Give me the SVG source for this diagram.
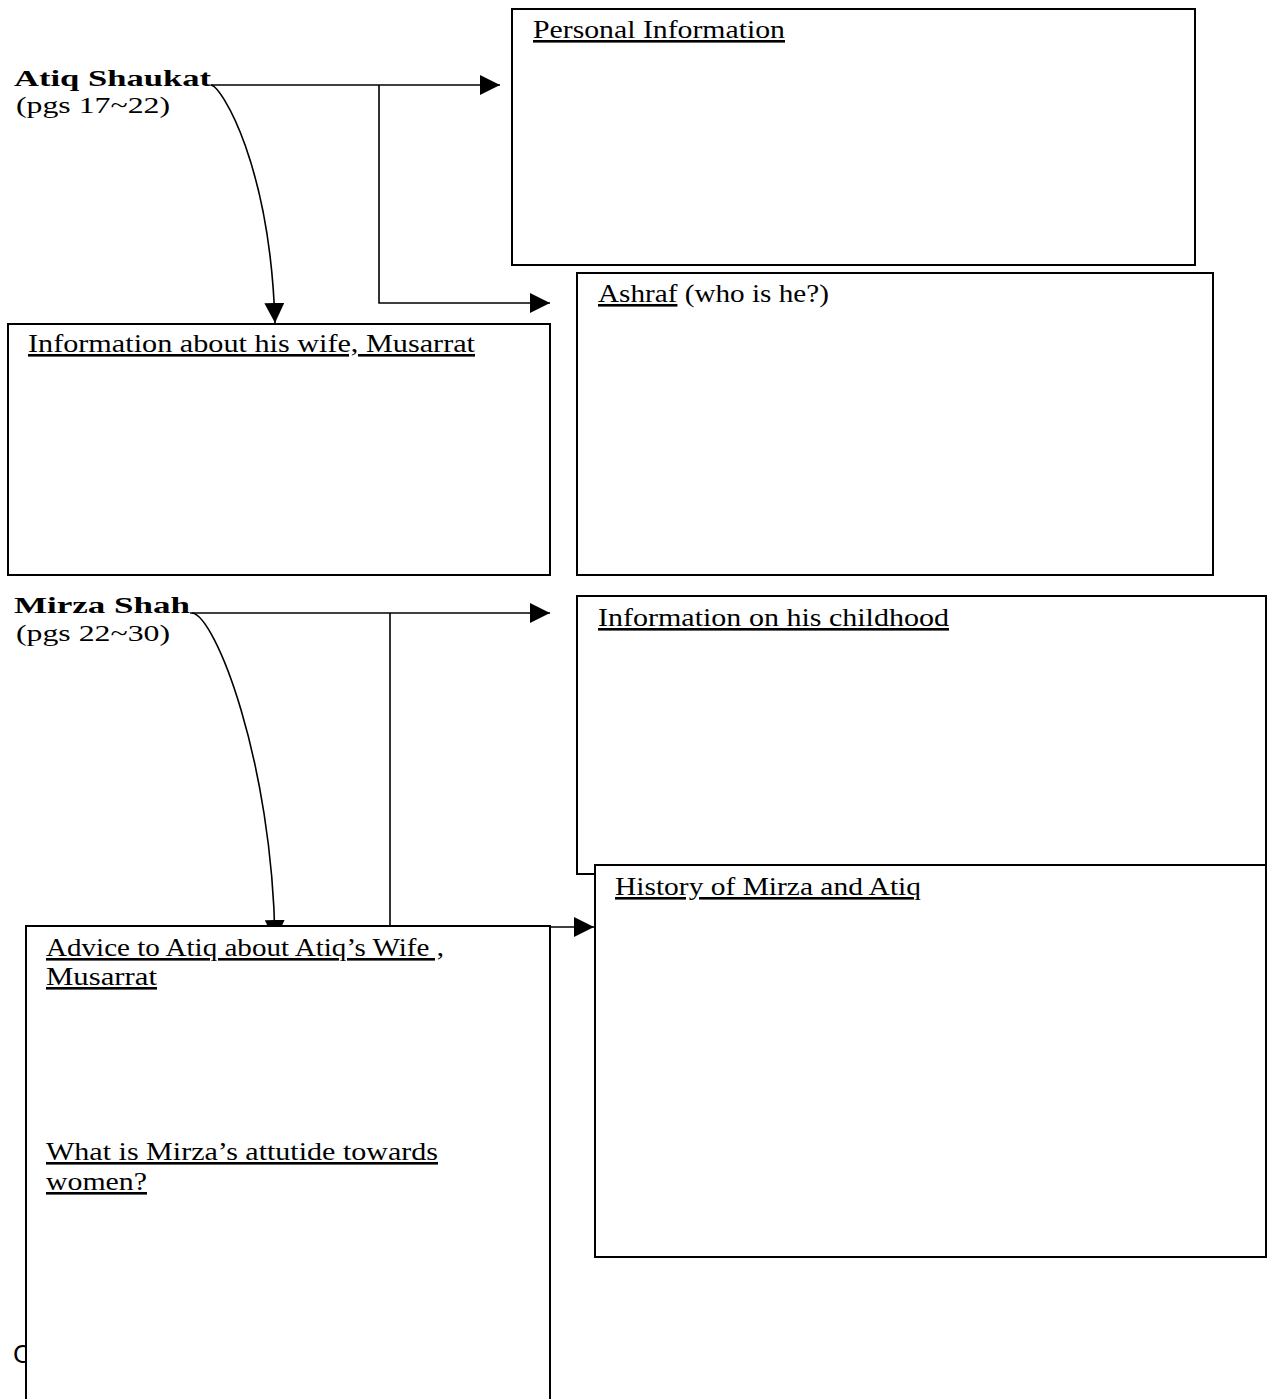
<svg xmlns="http://www.w3.org/2000/svg" width="1267" height="1399" viewBox="0 0 1267 1399">
<style>
.box{fill:#fff;stroke:#000;stroke-width:2}
.ln{fill:none;stroke:#000;stroke-width:1.6}
.hd{font-family:"Liberation Serif",serif;font-size:24px;font-weight:bold;fill:#000}
.pg{font-family:"Liberation Serif",serif;font-size:23px;fill:#000}
.lb{font-family:"Liberation Serif",serif;font-size:26px;fill:#000}
.u{text-decoration:underline}
</style>
<defs>
<marker id="arr" markerUnits="userSpaceOnUse" markerWidth="20" markerHeight="20" refX="20" refY="10" orient="auto">
<path d="M0,0 L20,10 L0,20 Z" fill="#000"/>
</marker>
</defs>
<rect width="1267" height="1399" fill="#fff"/>
<text x="13" y="1363" font-family="'DejaVu Sans',sans-serif" font-size="24" fill="#000">C</text>
<g id="headers">
<text class="hd" x="14" y="86" textLength="197" lengthAdjust="spacingAndGlyphs">Atiq Shaukat</text>
<text class="pg" x="16" y="113" textLength="154" lengthAdjust="spacingAndGlyphs">(pgs 17~22)</text>
<text class="hd" x="14" y="613" textLength="176" lengthAdjust="spacingAndGlyphs">Mirza Shah</text>
<text class="pg" x="16" y="641" textLength="154" lengthAdjust="spacingAndGlyphs">(pgs 22~30)</text>
</g>
<g id="connectors">
<path class="ln" d="M211,85 L500,85" marker-end="url(#arr)"/>
<path class="ln" d="M379,85 L379,303 L550,303" marker-end="url(#arr)"/>
<path class="ln" d="M211,85 C222,87 270,165 275,323" marker-end="url(#arr)"/>
<path class="ln" d="M190,613 L550,613" marker-end="url(#arr)"/>
<path class="ln" d="M390,613 L390,926"/>
<path class="ln" d="M192,613 C215,615 272,760 275,940" marker-end="url(#arr)"/>
<path class="ln" d="M550,927 L594,927" marker-end="url(#arr)"/>
</g>
<g id="node-personal">
<rect class="box" x="512" y="9" width="683" height="256"/>
<text class="lb u" x="533" y="38" textLength="252" lengthAdjust="spacingAndGlyphs">Personal Information</text>
</g>
<g id="node-ashraf">
<rect class="box" x="577" y="273" width="636" height="302"/>
<text class="lb" x="598" y="302" textLength="231" lengthAdjust="spacingAndGlyphs"><tspan class="u">Ashraf</tspan> (who is he?)</text>
</g>
<g id="node-wife">
<rect class="box" x="8" y="324" width="542" height="251"/>
<text class="lb u" x="28" y="352" textLength="447" lengthAdjust="spacingAndGlyphs">Information about his wife, Musarrat</text>
</g>
<g id="node-childhood">
<rect class="box" x="577" y="596" width="689" height="278"/>
<text class="lb u" x="598" y="626" textLength="351" lengthAdjust="spacingAndGlyphs">Information on his childhood</text>
</g>
<g id="node-history">
<rect class="box" x="595" y="865" width="671" height="392"/>
<text class="lb u" x="615" y="895" textLength="306" lengthAdjust="spacingAndGlyphs">History of Mirza and Atiq</text>
</g>
<g id="node-advice">
<rect class="box" x="26" y="926" width="524" height="480"/>
<text class="lb u" x="46" y="956" textLength="398" lengthAdjust="spacingAndGlyphs">Advice to Atiq about Atiq’s Wife ,</text>
<text class="lb u" x="46" y="985" textLength="111" lengthAdjust="spacingAndGlyphs">Musarrat</text>
<text class="lb u" x="46" y="1160" textLength="392" lengthAdjust="spacingAndGlyphs">What is Mirza’s attutide towards</text>
<text class="lb u" x="46" y="1190" textLength="101" lengthAdjust="spacingAndGlyphs">women?</text>
</g>
</svg>
